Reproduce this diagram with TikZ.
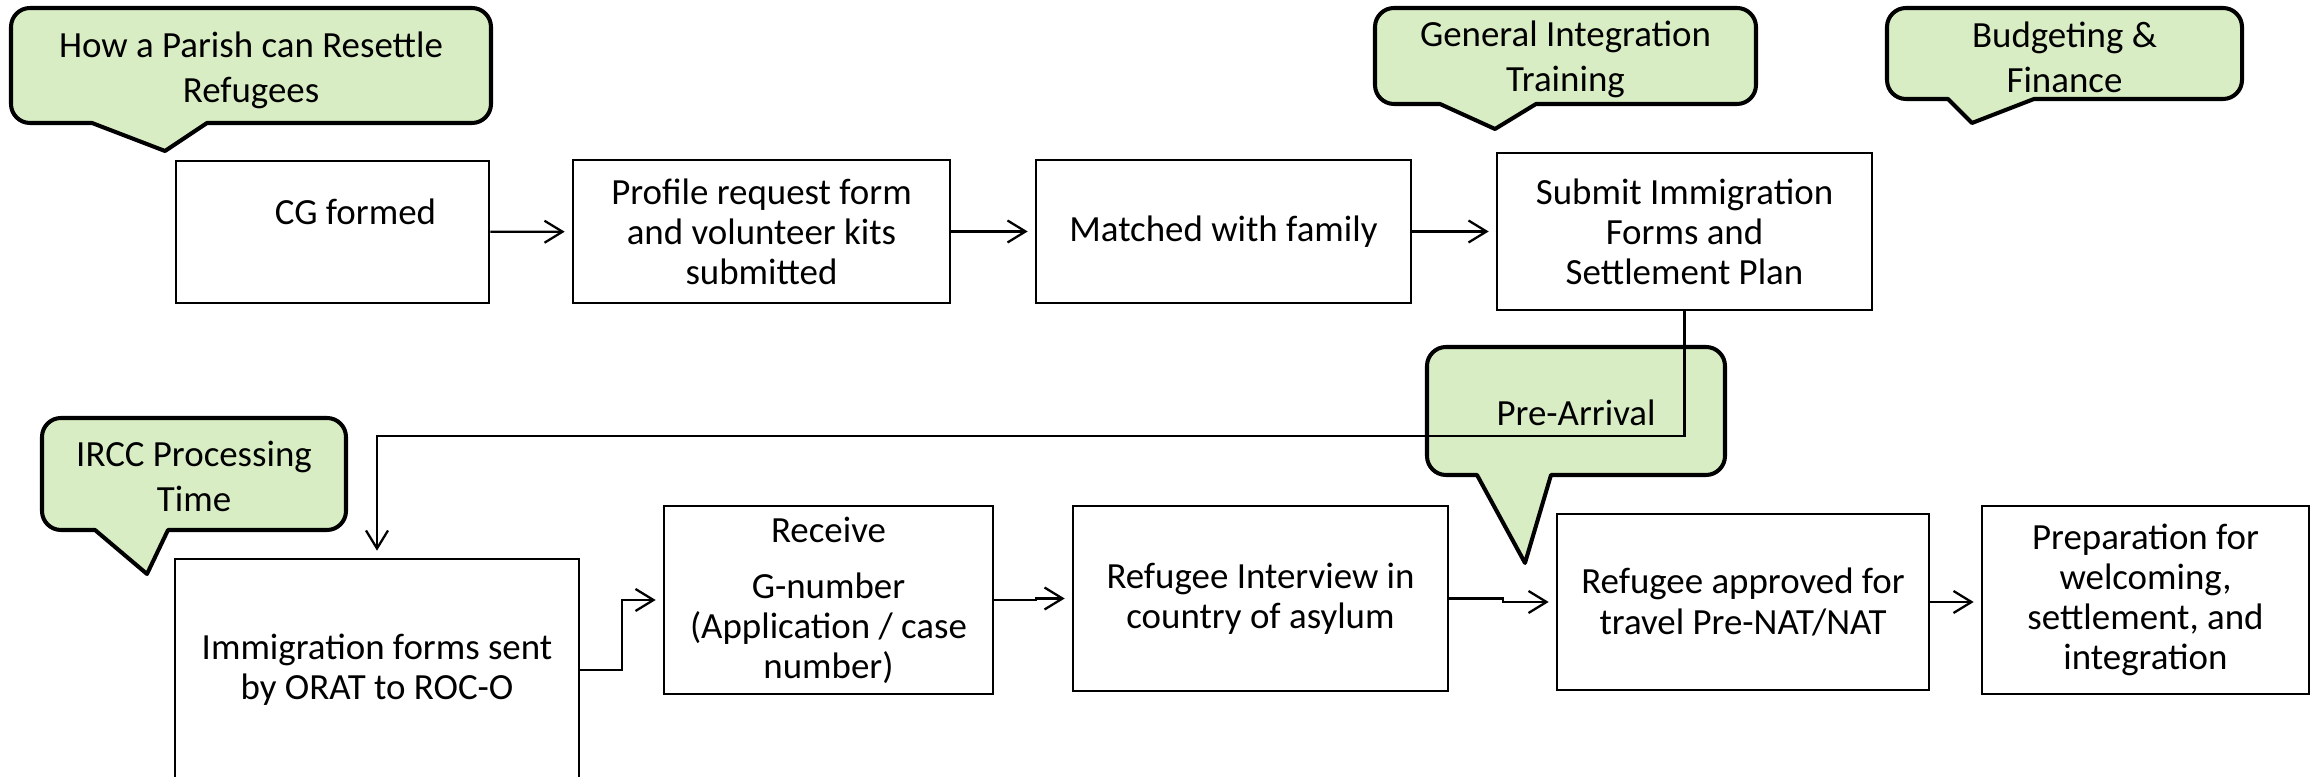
\documentclass[tikz,border=0pt]{standalone}
\usepackage{fontspec}
\setmainfont{Carlito}
\usetikzlibrary{arrows.meta}
\definecolor{notegreen}{HTML}{D9EDC4}
\tikzset{
  stepbox/.style={draw, line width=0.75pt, align=center, inner sep=0pt, font=\fontsize{10.5pt}{11.4pt}\selectfont},
  bubble/.style={draw, line width=1.15pt, fill=notegreen, line join=round},
  bubbletext/.style={align=center, font=\fontsize{10.5pt}{12.8pt}\selectfont},
  flow/.style={->, line width=0.65pt, shorten >=0.7mm},
}

\begin{document}
\begin{tikzpicture}[x=0.1mm, y=-0.1mm, >={Straight Barb[length=1.8mm,width=2.2mm]}]
    \useasboundingbox (0,0) rectangle (2321,777);

    % --- callouts ---
    \draw[bubble] (165,151) -- (207,123) [rounded corners=1.9mm] -- (491,123) -- (491,8) -- (11,8) -- (11,123) [sharp corners] -- (92,123) -- cycle;
    \node[bubbletext] (parish) at (251,70) {How a Parish can Resettle\\Refugees};

    \draw[bubble] (1495,129) -- (1536,104) [rounded corners=1.9mm] -- (1756,104) -- (1756,8) -- (1375,8) -- (1375,104) [sharp corners] -- (1440,104) -- cycle;
    \node[bubbletext] (training) at (1565.5,59) {General Integration\\Training};

    \draw[bubble] (1972,123) -- (2034,99) [rounded corners=1.9mm] -- (2242,99) -- (2242,8) -- (1887,8) -- (1887,99) [sharp corners] -- (1948,99) -- cycle;
    \node[bubbletext] (budget) at (2064.5,57) {Budgeting \&\\Finance};

    \draw[bubble] (1525,563) -- (1551,475) [rounded corners=1.9mm] -- (1725,475) -- (1725,347) -- (1427,347) -- (1427,475) [sharp corners] -- (1477,475) -- cycle;
    \node[bubbletext] (prearrival) at (1576,413) {Pre-Arrival};

    \draw[bubble] (147,574) -- (168,530) [rounded corners=1.9mm] -- (346,530) -- (346,418) -- (42,418) -- (42,530) [sharp corners] -- (95,530) -- cycle;
    \node[bubbletext] (ircc) at (194,476) {IRCC Processing\\Time};

    % --- top row ---
    \node[stepbox, minimum width=31.3mm, minimum height=14.2mm] (cg) at (332.5,232) {\hspace*{4.6mm}CG formed\\\mbox{}};
    \node[stepbox, minimum width=37.7mm, minimum height=14.3mm] (profile) at (761.5,231.5) {Profile request form\\and volunteer kits\\submitted};
    \node[stepbox, minimum width=37.5mm, minimum height=14.3mm] (matched) at (1223.5,231.5) {Matched with family};
    \node[stepbox, minimum width=37.5mm, minimum height=15.7mm] (submit) at (1684.5,231.5) {Submit Immigration\\Forms and\\Settlement Plan};

    % --- bottom row ---
    \node[stepbox, minimum width=40.4mm, minimum height=22.2mm] (immig) at (377,670) {Immigration forms sent\\by ORAT to ROC-O};
    \node[stepbox, minimum width=32.9mm, minimum height=18.8mm] (receive) at (828.5,600) {Receive\\[1.6mm]G-number\\(Application / case\\number)};
    \node[stepbox, minimum width=37.5mm, minimum height=18.5mm] (interview) at (1260.5,598.5) {Refugee Interview in\\country of asylum};
    \node[stepbox, minimum width=37.2mm, minimum height=17.6mm] (approved) at (1743,602) {Refugee approved for\\travel Pre-NAT/NAT};
    \node[stepbox, minimum width=32.7mm, minimum height=18.8mm] (prep) at (2145.5,600) {Preparation for\\welcoming,\\settlement, and\\integration};

    % connectors
    \draw[flow] (cg) -- (profile);
    \draw[flow] (profile) -- (matched);
    \draw[flow] (matched) -- (submit);
    \draw[flow] (submit.south) -- ++(0,125) -| (immig.north);
    \draw[flow] (immig.east) -- ++(42,0) |- (receive.west);
    \draw[flow] (receive.east) -- ++(42,0) |- (interview.west);
    \draw[flow] (interview.east) -- ++(54,0) |- (approved.west);
    \draw[flow] (approved.east) -- (approved.east -| prep.west);

\end{tikzpicture}
\end{document}
